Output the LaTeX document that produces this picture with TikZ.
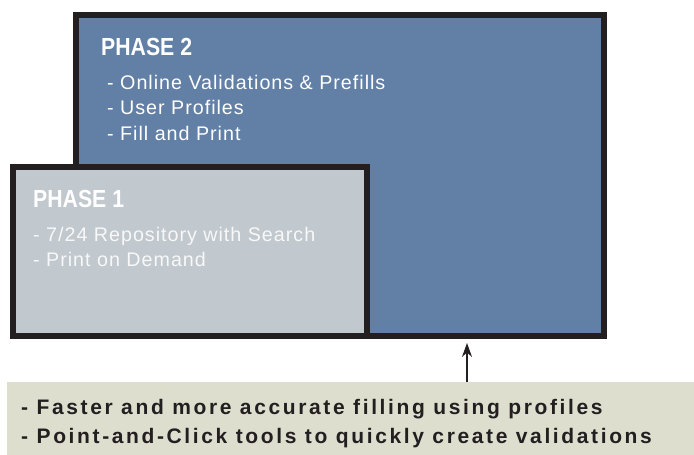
\documentclass[tikz,border=0pt]{standalone}
\usepackage{fontspec}
\setmainfont{Liberation Sans}
\newfontfamily\headfont[FakeStretch=0.86]{Liberation Sans}
\newfontfamily\itemfont[LetterSpace=5]{Liberation Sans}
\newfontfamily\notefont[LetterSpace=12.5]{Liberation Sans}
\usetikzlibrary{positioning, arrows.meta}

\definecolor{phaseblue}{RGB}{98,127,166}
\definecolor{phasegray}{RGB}{193,200,206}
\definecolor{frameblack}{RGB}{35,31,32}
\definecolor{notebeige}{RGB}{222,222,206}

\begin{document}
\begin{tikzpicture}[x=1pt, y=-1pt,
phasebox/.style={rectangle, anchor=north west, draw=frameblack, line width=6pt, inner sep=0pt},
phasehead/.style={anchor=base west, inner sep=0pt, text=white, font=\headfont\bfseries\fontsize{24.7}{30}\selectfont},
phaseitem/.style={anchor=base west, inner sep=0pt, text=white, font=\itemfont\fontsize{19.7}{24}\selectfont},
noteitem/.style={anchor=base west, inner sep=0pt, text=frameblack, font=\notefont\bfseries\fontsize{21}{26}\selectfont},
path/.style={-{Stealth[length=14pt, width=10pt]}, line width=1.5pt, draw=frameblack, shorten >=4pt},
]
\useasboundingbox (0,0) rectangle (694,455);

%Boxes
\node [phasebox, fill=phaseblue, minimum width=528.5pt, minimum height=320.7pt] (phase2) at (72.5,12.3) {};
\node [phasebox, fill=phasegray, minimum width=353.5pt, minimum height=169pt] (phase1) at (10,164) {};
\node [rectangle, anchor=north west, fill=notebeige, inner sep=0pt, minimum width=687pt, minimum height=73pt] (gains) at (7,382) {};

%Texts
\node [phasehead] (p2_title) at (101,56) {PHASE 2};
\node [phaseitem] (p2_valid) at (107,89) {- Online Validations \& Prefills};
\node [phaseitem] (p2_prof) at (107,114.5) {- User Profiles};
\node [phaseitem] (p2_fill) at (107,140) {- Fill and Print};

\node [phasehead] (p1_title) at (33,207) {PHASE 1};
\node [phaseitem, text=white!88!phasegray] (p1_repo) at (33,241) {- 7/24 Repository with Search};
\node [phaseitem, text=white!88!phasegray] (p1_print) at (33,266) {- Print on Demand};

\node [noteitem] (g_fast) at (21,414) {- Faster and more accurate filling using profiles};
\node [noteitem] (g_click) at (21,443) {- Point-and-Click tools to quickly create validations};

% Paths
\coordinate (g_top) at (467,382);
\draw [path] (g_top) -- (g_top |- phase2.south);
\end{tikzpicture}
\end{document}
